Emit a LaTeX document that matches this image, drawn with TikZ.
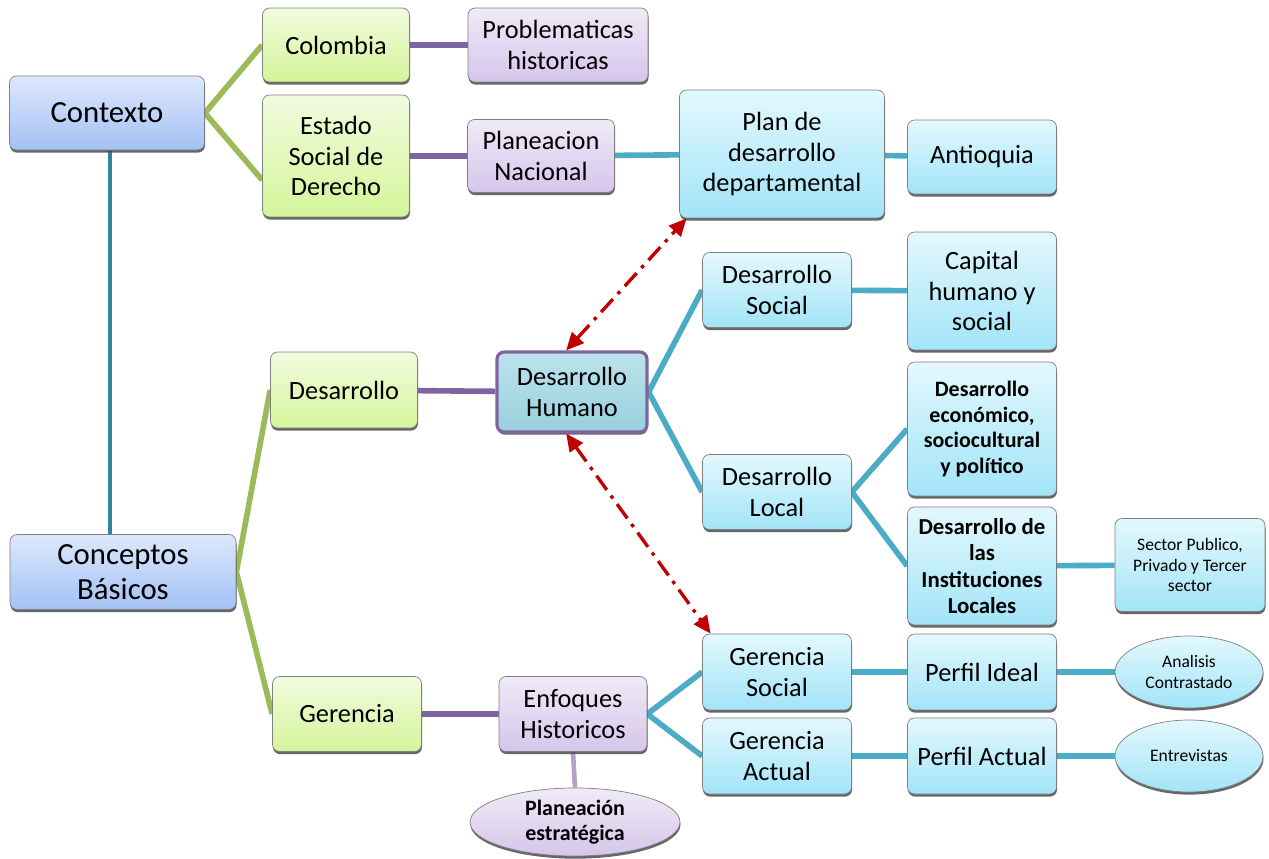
\documentclass[tikz,border=0pt]{standalone}
\usepackage{fontspec}
\setmainfont{Carlito}
\usepackage{tikz}
\usetikzlibrary{positioning, arrows.meta, shadows, shapes.geometric, backgrounds}
\definecolor{grnTop}{HTML}{F2FBDF}
\definecolor{grnBot}{HTML}{D4F59A}
\definecolor{bluTop}{HTML}{DDE8FB}
\definecolor{bluBot}{HTML}{A3C1F5}
\definecolor{prpTop}{HTML}{F0EAF7}
\definecolor{prpBot}{HTML}{D5C6EA}
\definecolor{cynTop}{HTML}{E3F8FD}
\definecolor{cynBot}{HTML}{A2E4F8}
\definecolor{humTop}{HTML}{BCE3EC}
\definecolor{humBot}{HTML}{98D0DE}
\definecolor{lineGreen}{HTML}{9BBB59}
\definecolor{linePurple}{HTML}{8064A2}
\definecolor{lineCyan}{HTML}{4BACC6}
\definecolor{lineTeal}{HTML}{31849B}
\definecolor{lineLilac}{HTML}{B3A2C7}
\definecolor{relRed}{HTML}{C00000}
\definecolor{edgeGray}{HTML}{808080}

\begin{document}
\begin{tikzpicture}[
    x=0.02cm, y=-0.02cm,
    box/.style={draw=edgeGray, rounded corners=4pt, align=center,
                minimum width=2.98cm, minimum height=1.5cm, inner sep=1pt,
                drop shadow={shadow xshift=0.3pt, shadow yshift=-1.5pt, fill=black!70, opacity=0.85},
                font=\fontsize{15}{17.5}\selectfont},
    ctx/.style={box, top color=bluTop, bottom color=bluBot,
                font=\fontsize{17.5}{19.5}\selectfont},
    grn/.style={box, top color=grnTop, bottom color=grnBot},
    prp/.style={box, top color=prpTop, bottom color=prpBot},
    cyn/.style={box, top color=cynTop, bottom color=cynBot},
    elp/.style={box, ellipse, minimum width=2.96cm, minimum height=1.44cm,
                font=\fontsize{10}{12}\selectfont},
    gline/.style={line width=3.2pt, lineGreen},
    pline/.style={line width=3.2pt, linePurple},
    cline/.style={line width=3.2pt, lineCyan},
    rel/.style={{Triangle[length=10pt,width=9pt]}-{Triangle[length=10pt,width=9pt]},
                line width=1.9pt, relRed, dash pattern=on 10pt off 4pt on 2pt off 4pt}
]
\useasboundingbox (0,0) rectangle (1269,859);

% ---- left column ----
\node[ctx, minimum width=3.9cm, minimum height=1.48cm] (ctx) at (107,113) {Contexto};
\node[ctx, minimum width=4.52cm] (cba) at (123,572) {Conceptos\\Básicos};

% ---- contexto branch ----
\node[grn, minimum width=2.94cm, minimum height=1.48cm] (col) at (336,45) {Colombia};
\node[grn, minimum width=2.94cm, minimum height=2.44cm] (esd) at (336,156) {Estado\\Social de\\Derecho};
\node[prp, minimum width=3.6cm, minimum height=1.48cm] (pro) at (558,45) {Problematicas\\historicas};
\node[prp, minimum width=2.94cm, minimum height=1.46cm] (pln) at (541,156) {Planeacion\\Nacional};
\node[cyn, minimum width=4.1cm, minimum height=2.56cm] (pdd) at (782,154) {Plan de\\desarrollo\\departamental};
\node[cyn, minimum height=1.48cm] (ant) at (982,157) {Antioquia};

% ---- desarrollo branch ----
\node[grn, minimum width=2.94cm, minimum height=1.52cm] (des) at (344,390) {Desarrollo};
\node[box, draw=linePurple, line width=1.8pt, top color=humTop, bottom color=humBot,
      minimum width=3.0cm, minimum height=1.6cm] (dhu) at (572,392) {Desarrollo\\Humano};
\node[cyn] (dso) at (777,290) {Desarrollo\\Social};
\node[cyn, minimum height=2.36cm] (cap) at (982,291) {Capital\\humano y\\social};
\node[cyn] (dlo) at (777,492) {Desarrollo\\Local};
\node[cyn, minimum height=2.68cm, font=\bfseries\fontsize{12.5}{14.5}\selectfont]
      (dec) at (982,429) {Desarrollo\\económico,\\sociocultural\\y político};
\node[cyn, minimum height=2.36cm, font=\bfseries\fontsize{13}{15}\selectfont]
      (din) at (982,566) {Desarrollo de\\las\\Instituciones\\Locales};
\node[cyn, minimum width=3.0cm, minimum height=1.86cm, font=\fontsize{10}{11.5}\selectfont]
      (spt) at (1190,565) {Sector Publico,\\Privado y Tercer\\sector};

% ---- gerencia branch ----
\node[grn] (ger) at (347,714) {Gerencia};
\node[prp, minimum width=2.96cm] (enf) at (573,714) {Enfoques\\Historicos};
\node[elp, top color=prpTop, bottom color=prpBot, minimum width=4.2cm, minimum height=1.3cm,
      font=\bfseries\fontsize{12.5}{14.5}\selectfont] (ple) at (575,822) {Planeación\\estratégica};
\node[cyn, minimum height=1.52cm] (gso) at (777,672) {Gerencia\\Social};
\node[cyn, minimum height=1.52cm] (gac) at (777,756) {Gerencia\\Actual};
\node[cyn, minimum height=1.52cm] (pid) at (982,672) {Perfil Ideal};
\node[cyn, minimum height=1.52cm] (pac) at (982,756) {Perfil Actual};
\node[elp, top color=cynTop, bottom color=cynBot] (ana) at (1189,672) {Analisis\\Contrastado};
\node[elp, top color=cynTop, bottom color=cynBot] (ent) at (1189,756) {Entrevistas};

% ---- connectors ----
\begin{scope}[on background layer]
\draw[line width=2.6pt, lineTeal] (ctx.south) ++(3,0) coordinate (ctxs) -- (ctxs |- cba.north);
\draw[gline] (col.west) -- (ctx.east) -- (esd.198);
\draw[gline] (des.west) -- (cba.east) -- (ger.west);
\draw[pline] (col) -- (pro);
\draw[pline] (esd) -- (pln);
\draw[pline] (des) -- (dhu);
\draw[pline] (ger) -- (enf);
\draw[line width=2.6pt, lineLilac] (enf.south) -- (ple.north);
\draw[cline] (pln) -- (pdd);
\draw[cline] (pdd) -- (ant);
\draw[cline] (dso.west) -- (dhu.east) -- (dlo.west);
\draw[cline] (dso) -- (cap);
\draw[cline] (dec.west) -- (dlo.east) -- (din.west);
\draw[cline] (din) -- (spt);
\draw[cline] (gso.west) -- (enf.east) -- (gac.west);
\draw[cline] (gso) -- (pid);
\draw[cline] (pid) -- (ana);
\draw[cline] (gac) -- (pac);
\draw[cline] (pac) -- (ent);
\end{scope}

% ---- relations ----
\draw[rel] (dhu.98) -- (pdd.214);
\draw[rel] (dhu.262) -- (gso.150);
\end{tikzpicture}
\end{document}
